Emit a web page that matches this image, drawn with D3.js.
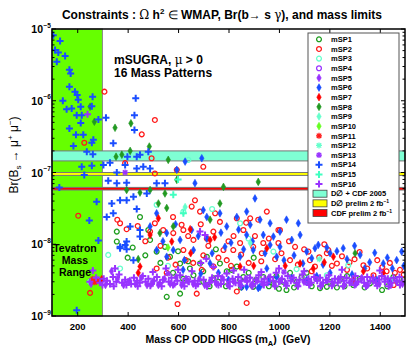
<!DOCTYPE html>
<html>
<head>
<meta charset="utf-8">
<script src="https://cdn.jsdelivr.net/npm/d3@7"></script>
<style>
body { margin: 0; background: #fff; }
svg { display: block; font-family: "Liberation Sans", Arial, sans-serif; }
</style>
</head>
<body>
<svg id="chart" width="409" height="354"></svg>
<script>
// data: [mA (GeV), Br(Bs -> mu mu)]
var mSP1 = [[357,1.5e-8],[357,1.09e-8],[449,2.4e-8],[482,1.58e-8],[489,1.15e-8],[515,7.9e-9],[548,9.2e-9],[568,6.7e-9],
    [608,5.4e-9],[647,4.6e-9],[687,5.4e-9],[714,6.7e-9],[555,1.85e-9],[608,2.05e-9],[766,5.4e-9],[793,4.2e-9],[833,4.9e-9],
    [859,3.5e-9],[661,3.7e-9],[740,3.35e-9],[898,2.55e-9],[978,2.85e-9],[1017,3.0e-9],[1071,3.0e-9],[1163,2.45e-9],
    [1190,2.55e-9],[1242,3.2e-9],[1295,2.7e-9],[1361,2.85e-9],[1454,3.5e-9],[1480,2.85e-9],[1044,4.0e-9],[938,3.5e-9],
    [1110,4.0e-9],[813,4.4e-9],[846,3.2e-9],[1409,2.3e-9],[1230,2.5e-9],[620,3.3e-9],[700,3.0e-9],[960,2.6e-9],
    [580,4.0e-9],[640,5.8e-9],[700,4.2e-9],[725,2.6e-9],[760,3.0e-9],[790,2.6e-9],[850,2.5e-9],[880,4.0e-9],[910,3.2e-9],
    [990,3.6e-9],[1000,2.4e-9],[1060,2.5e-9],[1090,3.5e-9],[1130,2.6e-9],[1200,3.0e-9],[1260,2.6e-9],[1320,3.3e-9],
    [1340,2.5e-9],[1390,3.0e-9],[1430,2.6e-9],[1495,3.2e-9],[530,5.5e-9],[470,7.0e-9],[420,9.0e-9],[400,6.5e-9],
    [600,8.0e-9],[750,8.5e-9],[900,6.5e-9],[1150,3.3e-9],[1270,3.6e-9],[1030,2.3e-9]];
var mSP2 = [[308,1.34e-6],[508,5.4e-7],[456,3.4e-7],[228,2.6e-7],[495,1.58e-7],[700,1.2e-7],[390,1.35e-7],[508,9.7e-8],
    [595,1.09e-7],[204,2.5e-8],[359,2.2e-8],[370,1.96e-8],[396,1.62e-8],[489,1.5e-8],[508,1.96e-8],[541,1.58e-8],
    [581,1.43e-8],[614,1.87e-8],[667,4.1e-8],[687,2.85e-8],[747,2.7e-8],[766,2.05e-8],[740,1.5e-8],[714,1.2e-8],
    [661,1.15e-8],[621,8.3e-9],[555,4.0e-9],[515,4.6e-9],[598,1.47e-9],[674,2.05e-9],[251,2.1e-9],[833,2.3e-8],
    [859,1.58e-8],[886,2.3e-8],[918,2.2e-8],[952,2.85e-8],[998,1.58e-8],[938,1.04e-8],[898,9.2e-9],[846,1.04e-8],
    [819,8.3e-9],[793,6.0e-9],[740,4.9e-9],[694,4.4e-9],[621,1.58e-8],[654,3.35e-8],[780,8.3e-9],[1004,1.58e-8],
    [1064,9.2e-9],[1123,6.0e-9],[1190,7.5e-9],[1230,5.4e-9],[1335,5.1e-9],[1427,4.2e-9],[1460,4.0e-9],[833,2.2e-9],
    [872,1.52e-9],[932,7.5e-9],[1044,6.0e-9],[1143,4.9e-9],[1375,3.7e-9],[1455,2.7e-9],[998,1.04e-8],[1117,7.9e-9],
    [1196,8.3e-9],[1270,4.4e-9],[1300,6.2e-9],
    [560,6.5e-9],[590,5.2e-9],[630,6.0e-9],[660,5.5e-9],[700,7.0e-9],[720,9.5e-9],[760,6.5e-9],[800,1.1e-8],[810,5.0e-9],
    [850,7.2e-9],[880,5.5e-9],[905,1.3e-8],[930,5.8e-9],[960,1.2e-8],[985,6.2e-9],[1010,7.5e-9],[1040,1.1e-8],
    [1075,5.2e-9],[1100,8.5e-9],[1130,4.2e-9],[1160,6.6e-9],[1180,1.0e-8],[1210,5.0e-9],[1250,6.8e-9],[1280,5.6e-9],
    [1320,7.8e-9],[1350,4.6e-9],[1390,6.0e-9],[1410,4.8e-9],[1440,5.5e-9],[1480,4.4e-9],[1495,3.8e-9],[640,1.3e-8],
    [580,2.4e-8],[690,1.9e-8],[820,1.3e-8],[870,2.0e-8],[440,1.8e-8],[470,1.1e-8],[530,9.5e-9]];
var mSP3 = [[515,3.55e-8],[323,7.1e-9],[370,4.6e-9],[641,1.5e-7],[846,1.96e-8],[879,1.2e-8],[621,2.85e-8],[251,3.0e-9],
    [978,7.9e-9],[1275,5.1e-9],[1190,3.7e-9],[1441,3.2e-9],[735,3.1e-8],[560,5.0e-9],[1070,4.5e-9]];
var mSP4 = [[640,3.3e-9],[1120,3.0e-9],[880,3.4e-9]];
var mSP5 = [[255,2.8e-9],[284,3.2e-9],[312,2.7e-9],[336,4.2e-9],[360,3.3e-9],[384,2.7e-9],[408,3.1e-9],[431,2.8e-9],
    [454,3.4e-9],[477,2.7e-9],[500,3.0e-9],[522,2.7e-9],[546,3.3e-9],[569,2.8e-9],[592,3.5e-9],[614,2.7e-9],[637,3.1e-9],
    [660,2.8e-9],[684,3.3e-9],[706,2.7e-9],[729,3.1e-9],[752,2.8e-9],[775,3.4e-9],[798,2.7e-9],[821,3.0e-9],[845,2.8e-9],
    [868,3.3e-9],[891,2.7e-9],[914,3.1e-9],[937,2.8e-9],[960,3.4e-9],[983,2.7e-9],[1006,3.1e-9],[1029,2.8e-9],[1052,3.3e-9],
    [1076,2.7e-9],[1099,3.0e-9],[1122,2.8e-9],[1145,3.4e-9],[1168,2.7e-9],[1191,3.1e-9],[1214,2.8e-9],[1237,3.3e-9],
    [1260,2.7e-9],[1283,3.0e-9],[1306,2.8e-9],[1329,3.4e-9],[1352,2.7e-9],[1375,3.1e-9],[1398,2.8e-9],[1421,3.3e-9],
    [1444,2.7e-9],[1467,3.0e-9],[1490,2.8e-9]];
var mSP6 = [[628,1.42e-7],[694,1.58e-7],[667,7.1e-8],[595,1.09e-7],[515,2.7e-8],[489,1.77e-8],[555,1.43e-8],[581,8.3e-9],
    [654,1.58e-8],[714,2.4e-8],[766,2.7e-8],[793,1.77e-8],[833,2.4e-8],[872,2.85e-8],[905,4.35e-8],[925,2.2e-8],
    [965,1.96e-8],[978,1.28e-8],[898,8.3e-9],[846,6.7e-9],[786,9.2e-9],[727,5.4e-9],[661,8.3e-9],[608,1.15e-8],
    [555,6.7e-9],[515,8.3e-9],[991,6.7e-9],[952,4.6e-9],[991,3.5e-9],[925,2.55e-9],[872,2.55e-9],[714,1.2e-8],
    [700,3.0e-8],[1077,1.96e-8],[1084,1.35e-8],[1110,7.9e-9],[1143,8.8e-9],[1156,9.8e-9],[1203,7.5e-9],[1255,8.8e-9],
    [1322,7.1e-9],[1414,5.4e-9],[1467,6.0e-9],[1487,7.9e-9],[1004,9.2e-9],[965,9.8e-9],[886,1.87e-8],[872,1.35e-8],
    [938,1.35e-8],[1388,3.2e-9],[1203,4.0e-9],[1110,3.2e-9],[852,2.55e-9],[918,2.45e-9],[1051,1.15e-8],[1004,1.5e-8],
    [1030,2.2e-8],[760,4.0e-9],[1340,4.6e-9],
    [540,1.1e-8],[590,1.9e-8],[625,6.0e-9],[680,1.3e-8],[735,7.5e-9],[770,1.45e-8],[810,1.05e-8],[840,1.6e-8],[860,8.5e-9],
    [895,1.1e-8],[945,7.5e-9],[1020,6.0e-9],[1060,7.0e-9],[1095,5.4e-9],[1130,6.4e-9],[1175,5.2e-9],[1190,9.0e-9],
    [1230,8.0e-9],[1270,6.2e-9],[1300,9.5e-9],[1360,5.6e-9],[1380,7.6e-9],[1430,6.5e-9],[1450,4.6e-9],[1495,5.0e-9],
    [1290,3.8e-9],[1150,3.6e-9],[1050,3.4e-9],[960,3.0e-9],[800,3.2e-9],[690,3.9e-9],[620,4.4e-9],[1440,3.0e-9]];
var mSP7 = [[522,2.3e-8],[489,1.35e-8],[648,1.62e-8],[449,4.9e-9],[575,1.09e-8],[727,1.15e-8],[952,8.8e-9],[846,4.9e-9],
    [297,3.25e-9],[442,4.0e-9],[1216,6.7e-9],[1136,4.6e-9],[1084,5.4e-9],[1335,4.2e-9],[1414,4.0e-9],[1295,3.2e-9],
    [745,1.25e-8],[1025,5.0e-9],[900,5.0e-9],[1180,5.6e-9],[650,7.5e-9]];
var mSP8 = [[251,8.25e-7],[268,5.1e-7],[350,4.2e-7],[413,4.85e-7],[486,2.3e-7],[410,2.0e-7],[377,1.77e-7],[354,1.66e-7],
    [561,1.5e-7],[396,5.7e-8],[449,5.25e-8],[489,5.7e-8],[548,5.1e-8],[595,7.9e-8],[522,3.7e-8],[555,3.2e-8],
    [581,1.77e-8],[528,1.43e-8],[442,6.2e-9],[780,6.3e-8],[918,7.4e-8],[766,3.7e-8],[727,2.2e-8],[1302,7.5e-9]];
var mSP9 = [[628,3.3e-8],[886,1.04e-8]];
var mSP10 = [[560,9.0e-9]];
var mSP11 = [[262,3.3e-9],[280,3.1e-9],[270,2.95e-9]];
var mSP12 = [[1160,6.2e-9]];
var mSP13 = [[390,1.0e-7],[560,3.9e-9],[1020,4.1e-9]];
var mSP14 = [[105,8.2e-6],[132,6.8e-6],[112,5.1e-6],[125,4.7e-6],[152,4.2e-6],[119,3.5e-6],[169,2.7e-6],[174,2.4e-6],
    [169,1.57e-6],[191,1.34e-6],[200,1.2e-6],[143,1.0e-6],[204,1.03e-6],[261,1.14e-6],[214,8.25e-7],[158,7.6e-7],
    [178,7.8e-7],[258,8.4e-7],[198,6.3e-7],[218,6.3e-7],[284,5.5e-7],[314,5.8e-7],[214,4.9e-7],[169,4.1e-7],[195,3.35e-7],
    [224,3.35e-7],[264,2.85e-7],[258,2.6e-7],[185,2.35e-7],[238,1.95e-7],[262,1.8e-7],[343,2.55e-7],[432,1.08e-6],
    [427,6.3e-7],[427,3.9e-7],[399,1.66e-7],[482,1.95e-7],[436,1.66e-7],[218,1.2e-7],[258,1.24e-7],[228,9.2e-8],
    [304,1.27e-7],[330,1.37e-7],[357,1.0e-7],[390,1.27e-7],[436,1.14e-7],[462,1.2e-7],[489,1.14e-7],[449,1.77e-7],
    [323,7.7e-8],[357,7.1e-8],[396,7.2e-8],[277,3.9e-8],[248,2.15e-8],[317,2.4e-8],[343,2.7e-8],[337,3.7e-8],
    [370,4.1e-8],[396,4.1e-8],[423,4.6e-8],[436,3.1e-8],[284,1.13e-8],[410,1.77e-8],[390,9.8e-9],[370,8.8e-9],
    [396,8.5e-9],[449,1.58e-8],[449,1.28e-8],[515,7.1e-8],[548,7.1e-8],[476,5.1e-8],[129,6.2e-8],[370,9.2e-9],
    [396,1.09e-8],[423,6.0e-9],[198,1.2e-9]];
var mSP15 = [[581,4.9e-8],[621,2.7e-8],[600,8.0e-8]];
var mSP16 = [[241,6.5e-7],[687,1.5e-8],[707,1.35e-8],
    [250,3.0e-9],[262,4.3e-9],[275,3.4e-9],[290,2.9e-9],[305,3.3e-9],[318,3.1e-9],[330,2.8e-9],[342,3.5e-9],[355,3.0e-9],
    [366,3.8e-9],[378,2.9e-9],[390,3.2e-9],[402,3.0e-9],[414,2.8e-9],[425,3.4e-9],[437,3.1e-9],[448,2.9e-9],[460,3.6e-9],
    [471,3.0e-9],[482,3.3e-9],[494,2.8e-9],[505,3.1e-9],[516,3.5e-9],[528,2.9e-9],[540,3.2e-9],[552,4.6e-9],[563,3.0e-9],
    [574,3.4e-9],[586,2.8e-9],[597,3.1e-9],[608,3.7e-9],[620,2.9e-9],[631,3.3e-9],[643,3.0e-9],[655,4.2e-9],[666,3.1e-9],
    [678,2.8e-9],[690,5.5e-9],[701,3.2e-9],[712,6.3e-9],[724,2.9e-9],[735,3.4e-9],[747,3.0e-9],[758,3.6e-9],[770,2.8e-9],
    [781,3.2e-9],[793,3.9e-9],[804,3.0e-9],[816,3.3e-9],[828,2.9e-9],[839,3.5e-9],[851,3.1e-9],[862,4.4e-9],[874,3.0e-9],
    [885,3.4e-9],[897,2.8e-9],[908,3.2e-9],[920,3.7e-9],[931,3.0e-9],[943,3.3e-9],[954,2.9e-9],[966,3.5e-9],[977,3.1e-9],
    [989,4.0e-9],[1000,3.0e-9],[1012,3.3e-9],[1024,2.9e-9],[1035,3.6e-9],[1047,3.1e-9],[1058,3.4e-9],[1070,2.9e-9],
    [1082,3.2e-9],[1093,3.8e-9],[1105,3.0e-9],[1117,3.3e-9],[1128,2.9e-9],[1140,3.5e-9],[1152,3.1e-9],[1163,3.4e-9],
    [1175,2.9e-9],[1187,3.2e-9],[1198,3.7e-9],[1210,3.0e-9],[1222,3.3e-9],[1233,2.9e-9],[1245,3.5e-9],[1257,3.1e-9],
    [1268,3.4e-9],[1280,2.9e-9],[1292,3.2e-9],[1303,3.6e-9],[1315,3.0e-9],[1327,3.3e-9],[1338,2.9e-9],[1350,3.5e-9],
    [1362,3.1e-9],[1373,3.4e-9],[1385,2.9e-9],[1397,3.2e-9],[1408,3.6e-9],[1420,3.0e-9],[1432,3.3e-9],[1443,2.9e-9],
    [1455,3.4e-9],[1467,3.1e-9],[1478,3.5e-9],[1490,3.0e-9],
    [300,2.7e-9],[345,2.6e-9],[395,2.7e-9],[440,2.6e-9],[490,2.65e-9],[535,2.6e-9],[580,2.7e-9],[625,2.6e-9],[670,2.65e-9],
    [715,2.6e-9],[760,2.7e-9],[805,2.6e-9],[850,2.65e-9],[895,2.6e-9],[940,2.7e-9],[985,2.6e-9],[1030,2.65e-9],[1075,2.6e-9],
    [1120,2.7e-9],[1165,2.6e-9],[1210,2.65e-9],[1255,2.6e-9],[1300,2.7e-9],[1345,2.6e-9],[1390,2.65e-9],[1435,2.6e-9],
    [1480,2.7e-9],[350,4.6e-9],[600,4.4e-9],[740,4.8e-9],[820,4.3e-9],[1000,4.6e-9],[1100,4.2e-9],[1250,4.4e-9],
    [1400,4.3e-9],[500,4.1e-9],[930,4.1e-9]];

var seriesNames = ["mSP1","mSP2","mSP3","mSP4","mSP5","mSP6","mSP7","mSP8","mSP9","mSP10","mSP11","mSP12","mSP13","mSP14","mSP15","mSP16"];
var seriesData = [mSP1,mSP2,mSP3,mSP4,mSP5,mSP6,mSP7,mSP8,mSP9,mSP10,mSP11,mSP12,mSP13,mSP14,mSP15,mSP16];

// experimental limits (bands) and Tevatron mass range
var bandNames = ["D\u2205 + CDF 2005", "D\u2205 prelim 2 fb", "CDF prelim 2 fb"];
var bandLow = [1.45e-7, 9.1e-8, 5.7e-8];
var bandHigh = [2.0e-7, 1.0e-7, 6.2e-8];
var tevatronRange = [100, 300];
var xTicks = [200, 400, 600, 800, 1000, 1200, 1400];
var yDecades = [-9, -8, -7, -6, -5];

// styles
var seriesColors = ["#1f9e1f","#ff1a1a","#66ffcc","#9933ff","#9933ff","#1a4dff","#ff0000","#229922","#66ffcc","#66ff22","#ff1a1a","#66ffcc","#9933ff","#1a4dff","#40ffc0","#9933ff"];
var seriesMarkers = ["circle","circle","circle","circle","diamond","diamond","diamond","diamond","diamond","diamond","star","star","star","plus","plus","plus"];
var bandColors = ["#7fffd4", "#ffff00", "#ff0000"];

var svg = d3.select("#chart");
var pLeft = 52, pRight = 405, pTop = 29, pBottom = 316;

var x = d3.scaleLinear().domain([100, 1500]).range([pLeft, pRight]);
var y = d3.scaleLog().domain([1e-9, 1e-5]).range([pBottom, pTop]);

svg.append("defs").append("clipPath").attr("id", "clip")
    .append("rect").attr("x", pLeft).attr("y", pTop).attr("width", pRight - pLeft).attr("height", pBottom - pTop);

// tevatron region
svg.append("rect")
    .attr("x", x(tevatronRange[0])).attr("y", pTop)
    .attr("width", x(tevatronRange[1]) - x(tevatronRange[0]))
    .attr("height", pBottom - pTop)
    .attr("fill", "#66ff00").attr("stroke", "#888").attr("stroke-width", 1);

// bands
svg.selectAll(".band").data(bandLow).enter().append("rect")
    .attr("class", "band")
    .attr("x", pLeft).attr("width", pRight - pLeft)
    .attr("y", function (d, i) { return y(bandHigh[i]); })
    .attr("height", function (d, i) { return y(d) - y(bandHigh[i]); })
    .attr("fill", function (d, i) { return bandColors[i]; })
    .attr("stroke", "#777").attr("stroke-width", 1);

function markerPath(type) {
    if (type == "diamond") return d3.symbol(d3.symbolDiamond, 17)();
    if (type == "plus") return "M-3.5,0H3.5M0,-3.5V3.5";
    if (type == "star") return "M-3,0H3M0,-3V3M-2.2,-2.2L2.2,2.2M-2.2,2.2L2.2,-2.2";
    return null;
}

function addMarker(g, type, color) {
    if (type == "circle") {
        g.append("circle").attr("r", 2.4).attr("fill", "none")
            .attr("stroke", color).attr("stroke-width", 1.3);
    } else if (type == "diamond") {
        g.append("path").attr("d", markerPath(type)).attr("fill", color)
            .attr("stroke", color).attr("stroke-width", 0.6);
    } else {
        g.append("path").attr("d", markerPath(type)).attr("fill", "none")
            .attr("stroke", color).attr("stroke-width", type == "plus" ? 2 : 1.3);
    }
}

// points
var pts = svg.append("g").attr("clip-path", "url(#clip)");
seriesData.forEach(function (data, s) {
    pts.selectAll(".p" + s).data(data).enter().append("g")
        .attr("class", "p" + s)
        .attr("transform", function (d) { return "translate(" + x(d[0]) + "," + y(d[1]) + ")"; })
        .each(function () { addMarker(d3.select(this), seriesMarkers[s], seriesColors[s]); });
});

// annotations
var ann = svg.append("g").attr("font-weight", "bold").attr("fill", "#000");
var t1 = ann.append("text").attr("x", 114).attr("y", 64).attr("font-size", "12px");
t1.append("tspan").text("mSUGRA, ");
t1.append("tspan").attr("font-weight", "normal").attr("font-family", "DejaVu Serif").text("\u03bc");
t1.append("tspan").text(" > 0");
ann.append("text").attr("x", 114).attr("y", 77).attr("font-size", "12px").text("16 Mass Patterns");
ann.selectAll(".tev").data(["Tevatron", "Mass", "Range"]).enter().append("text")
    .attr("x", 75).attr("y", function (d, i) { return 252 + i * 12; })
    .attr("text-anchor", "middle").attr("font-size", "10.5px").text(function (d) { return d; });

// axes: ticks point inwards, mirrored on top and right
var axes = svg.append("g");
axes.append("g").attr("transform", "translate(0," + pBottom + ")")
    .call(d3.axisBottom(x).tickValues(xTicks).tickSize(-4).tickPadding(7).tickFormat(d3.format("d")))
    .call(function (g) { g.select(".domain").remove(); })
    .selectAll("text").attr("font-size", "9.5px").attr("font-weight", "bold")
    .attr("font-family", "Liberation Sans, Arial, sans-serif").attr("fill", "#000");
axes.append("g").attr("transform", "translate(0," + pTop + ")")
    .call(d3.axisTop(x).tickValues(xTicks).tickSize(-4).tickFormat(""))
    .call(function (g) { g.select(".domain").remove(); });

var minorTicks = y.ticks().filter(function (v) { return Math.abs(Math.log10(v) - Math.round(Math.log10(v))) > 1e-6; });
var majorTicks = yDecades.map(function (e) { return Math.pow(10, e); });
[pLeft, pRight].forEach(function (xp) {
    var dir = xp == pLeft ? 1 : -1;
    axes.selectAll(null).data(majorTicks).enter().append("line")
        .attr("x1", xp).attr("x2", xp + dir * 4)
        .attr("y1", function (d) { return y(d); }).attr("y2", function (d) { return y(d); })
        .attr("stroke", "#000");
    axes.selectAll(null).data(minorTicks).enter().append("line")
        .attr("x1", xp).attr("x2", xp + dir * 2.5)
        .attr("y1", function (d) { return y(d); }).attr("y2", function (d) { return y(d); })
        .attr("stroke", "#000");
});

// y tick labels 10^n
axes.selectAll(".ylab").data(yDecades).enter().append("text")
    .attr("class", "ylab")
    .attr("x", 43).attr("y", function (d) { return y(Math.pow(10, d)) + 4; })
    .attr("font-size", "10.5px").attr("font-weight", "bold").attr("text-anchor", "end")
    .text("10");
axes.selectAll(".yexp").data(yDecades).enter().append("text")
    .attr("class", "yexp")
    .attr("x", 43.5).attr("y", function (d) { return y(Math.pow(10, d)) - 1.5; })
    .attr("font-size", "6.5px").attr("font-weight", "bold")
    .text(function (d) { return "\u2212" + (-d); });

// frame
svg.append("rect").attr("x", pLeft).attr("y", pTop).attr("width", pRight - pLeft).attr("height", pBottom - pTop)
    .attr("fill", "none").attr("stroke", "#000").attr("stroke-width", 1.5);

// legend
var lg = svg.append("g");
lg.append("rect").attr("x", 308).attr("y", 33).attr("width", 91).attr("height", 190)
    .attr("fill", "#fff").attr("stroke", "#555").attr("stroke-width", 1);
seriesNames.forEach(function (name, i) {
    var ly = 39.3 + i * 9.65;
    var g = lg.append("g").attr("transform", "translate(319," + ly + ")");
    addMarker(g, seriesMarkers[i], seriesColors[i]);
    lg.append("text").attr("x", 331).attr("y", ly + 2.7)
        .attr("font-size", "7.5px").attr("font-weight", "bold").text(name);
});
bandNames.forEach(function (name, i) {
    var ly = 39.3 + (16 + i) * 9.65;
    lg.append("rect").attr("x", 313).attr("y", ly - 3.5).attr("width", 14).attr("height", 7)
        .attr("fill", bandColors[i]).attr("stroke", "#444").attr("stroke-width", 0.8);
    var t = lg.append("text").attr("x", 331).attr("y", ly + 2.7)
        .attr("font-size", "7.5px").attr("font-weight", "bold");
    t.append("tspan").text(name);
    if (i > 0) t.append("tspan").attr("dy", -3).attr("font-size", "5px").text("\u22121");
});

// title
var title = svg.append("text").attr("x", 222).attr("y", 19).attr("text-anchor", "middle")
    .attr("font-size", "12px").attr("font-weight", "bold");
title.append("tspan").text("Constraints : ");
title.append("tspan").attr("font-weight", "normal").attr("font-family", "DejaVu Serif").text("\u03a9");
title.append("tspan").text(" h");
title.append("tspan").attr("dy", -5).attr("font-size", "8px").text("2");
title.append("tspan").attr("dy", 5).attr("font-weight", "normal").text(" \u2208 ");
title.append("tspan").text("WMAP, Br(b\u2192 s ");
title.append("tspan").attr("font-weight", "normal").attr("font-family", "DejaVu Serif").text("\u03b3");
title.append("tspan").text("), and mass limits");

// x label
var xl = svg.append("text").attr("x", 228).attr("y", 343).attr("text-anchor", "middle")
    .attr("font-size", "10.5px").attr("font-weight", "bold");
xl.append("tspan").text("Mass CP ODD HIGGS (m");
xl.append("tspan").attr("dy", 3).attr("font-size", "7.5px").text("A");
xl.append("tspan").attr("dy", -3).text(")\u00a0\u00a0(GeV)");

// y label
var ylab = svg.append("text").attr("transform", "translate(18,155) rotate(-90)")
    .attr("text-anchor", "middle").attr("font-size", "12px");
ylab.append("tspan").text("Br(B");
ylab.append("tspan").attr("dy", 3).attr("font-size", "8px").text("s");
ylab.append("tspan").attr("dy", -3).text(" \u2192 \u03bc");
ylab.append("tspan").attr("dy", -5).attr("font-size", "8px").text("+");
ylab.append("tspan").attr("dy", 5).text(" \u03bc");
ylab.append("tspan").attr("dy", -5).attr("font-size", "8px").text("\u2212");
ylab.append("tspan").attr("dy", 5).text(")");
</script>
</body>
</html>
